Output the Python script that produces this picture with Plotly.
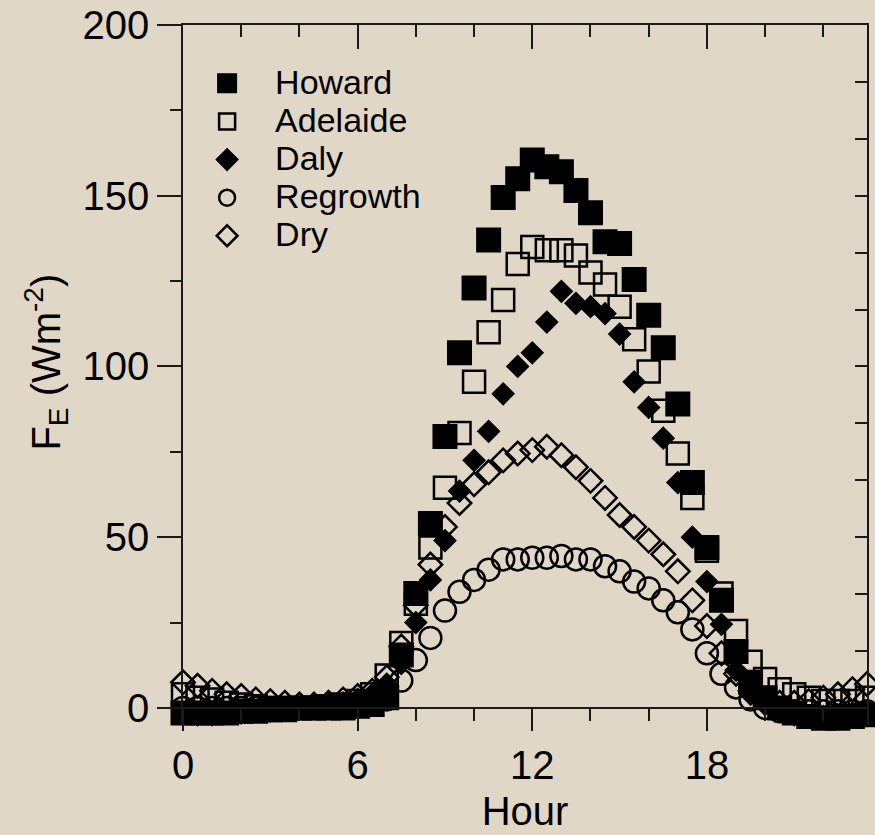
import plotly.graph_objects as go

# ---------------- data ----------------
hours = [0, 0.5, 1, 1.5, 2, 2.5, 3, 3.5, 4, 4.5, 5, 5.5, 6, 6.5, 7, 7.5,
         8, 8.5, 9, 9.5, 10, 10.5, 11, 11.5, 12, 12.5, 13, 13.5, 14, 14.5, 15, 15.5,
         16, 16.5, 17, 17.5, 18, 18.5, 19, 19.5, 20, 20.5, 21, 21.5, 22, 22.5, 23, 23.5]

howard = [-1.5, -1.5, -1.5, -1.5, -1, -1, -0.5, -0.5, 0, 0, 0, 0, 0.5, 1, 3, 15.5,
          33.5, 54, 79.5, 104, 123, 137, 149.5, 155, 160.5, 158.5, 157, 151.5, 145, 136.5, 136, 125.5,
          115, 105.5, 89, 66, 47, 31.5, 16.5, 7.5, 3, 0, -1.5, -2.5, -3, -3, -2.5, -2]

adelaide = [4, 3, 2.5, 1.5, 1, 0.5, 0, 0, 0, 0, 0.5, 1, 2, 4, 9.5, 19,
            30.5, 47, 64.5, 80.5, 95.5, 110, 119.5, 130, 135, 134, 134, 132.5, 127.5, 124, 117.5, 108,
            98.5, 87, 74.5, 61.5, 46, 33.5, 22.5, 13.5, 8.5, 5.5, 4, 3, 2, 2, 2, 3]

daly = [-2, -2, -2, -1.5, -1.5, -1, -1, -0.5, 0, 0.5, 1, 1.5, 2.5, 4, 7, 13,
        25, 37.5, 49, 63.5, 72.5, 81, 92, 100, 104, 113, 122, 118.5, 117.5, 115.5, 109.5, 95.5,
        88, 79, 66, 50, 37, 24.5, 11, 4, 1, -1, -2, -2.5, -2.5, -2, -1.5, -1]

regrowth = [0, 0, 0, 0, 0, 0, 0, 0, 0, 0, 0, 0, 0.5, 1, 2.5, 8,
            14, 20.5, 28.5, 34, 37.5, 40.5, 43.5, 43.5, 44, 44, 44.5, 43.5, 43.5, 41.5, 40, 37,
            35, 31.5, 28, 23, 16, 10, 6, 2.5, 0, -1, -1, -1, -1, -1, -1, -1]

dry = [7.5, 6.5, 5, 4, 3.5, 2.5, 2, 1.5, 1, 1, 1.5, 2.5, 3.5, 5, 9, 18,
       30, 42, 53, 60, 65.5, 69, 72.5, 74.5, 75.5, 76.5, 74, 70.5, 66.5, 61.5, 56.5, 53,
       49, 45, 40, 31.5, 24, 16, 10, 5, 2.5, 1.5, 1.5, 2, 3, 4, 5.5, 7]

x_ticks = [0, 6, 12, 18]
y_ticks = [0, 50, 100, 150, 200]

# ---------------- style ----------------
BG = "#e0d7c6"
INK = "#000000"
AXC = "#1a1a1a"
FONT = "Liberation Sans, Arial, sans-serif"

Y_MIN, Y_MAX = -5, 200          # a little room below zero so night values (slightly negative) show
X_MIN, X_MAX = 0, 23.5
RIGHT_DIV = 12                  # right-hand axis: 12 equal unlabeled divisions
zero_pos = (0 - Y_MIN) / (Y_MAX - Y_MIN)

fig = go.Figure()

def name(s):
    return '<span style="font-size:34px">' + s + '</span>'

# drawing order: Dry, Regrowth, Daly, Adelaide, Howard (Howard on top)
fig.add_trace(go.Scatter(x=hours, y=dry, mode="markers", name=name("Dry"),
                         marker=dict(symbol="diamond-open", size=18, color=INK,
                                     line=dict(width=2.5, color=INK)),
                         cliponaxis=False))
fig.add_trace(go.Scatter(x=hours, y=regrowth, mode="markers", name=name("Regrowth"),
                         marker=dict(symbol="circle-open", size=22, color=INK,
                                     line=dict(width=2.5, color=INK)),
                         cliponaxis=False))
fig.add_trace(go.Scatter(x=hours, y=daly, mode="markers", name=name("Daly"),
                         marker=dict(symbol="diamond", size=15, color=INK,
                                     line=dict(width=3, color=INK)),
                         cliponaxis=False))
fig.add_trace(go.Scatter(x=hours, y=adelaide, mode="markers", name=name("Adelaide"),
                         marker=dict(symbol="square-open", size=22, color=INK,
                                     line=dict(width=2.5, color=INK)),
                         cliponaxis=False))
fig.add_trace(go.Scatter(x=hours, y=howard, mode="markers", name=name("Howard"),
                         marker=dict(symbol="square", size=21, color=INK,
                                     line=dict(width=4, color=INK)),
                         cliponaxis=False))

# helper empty traces so the mirror axes (top / right) get drawn
fig.add_trace(go.Scatter(x=[], y=[], xaxis="x2", yaxis="y", showlegend=False, hoverinfo="skip"))
fig.add_trace(go.Scatter(x=[], y=[], xaxis="x", yaxis="y2", showlegend=False, hoverinfo="skip"))

fig.update_layout(
    width=875, height=835,
    margin=dict(l=183, r=8, t=25, b=110),
    paper_bgcolor=BG, plot_bgcolor=BG,
    font=dict(family=FONT, size=40, color=INK),
    showlegend=True,
    legend=dict(
        x=-0.0057, y=0.951, xanchor="left", yanchor="top",
        traceorder="reversed",
        bgcolor="rgba(0,0,0,0)", borderwidth=0,
        font=dict(family=FONT, size=27, color=INK),
        itemwidth=86,
    ),
    xaxis=dict(
        range=[X_MIN, X_MAX], anchor="free", position=zero_pos,
        tickmode="array", tickvals=x_ticks, ticktext=[str(v) for v in x_ticks],
        ticks="outside", ticklen=22, tickwidth=1.5, tickcolor=AXC,
        minor=dict(dtick=2, tick0=0, ticks="outside", ticklen=12, tickwidth=1.5, tickcolor=AXC),
        showline=True, linecolor=AXC, linewidth=1.5, showgrid=False, zeroline=False,
        tickfont=dict(size=40), title=dict(text="Hour", font=dict(size=40), standoff=10),
        automargin=False,
    ),
    xaxis2=dict(
        overlaying="x", side="top", anchor="y", matches="x",
        range=[X_MIN, X_MAX], tickmode="array", tickvals=x_ticks,
        ticks="inside", ticklen=24, tickwidth=1.5, tickcolor=AXC,
        minor=dict(dtick=2, tick0=0, ticks="inside", ticklen=12, tickwidth=1.5, tickcolor=AXC),
        showticklabels=False, showline=True, linecolor=AXC, linewidth=1.5,
        showgrid=False, zeroline=False,
    ),
    yaxis=dict(
        range=[Y_MIN, Y_MAX], tickmode="array", tickvals=y_ticks, ticktext=[str(v) for v in y_ticks],
        ticks="outside", ticklen=24, tickwidth=1.5, tickcolor=AXC,
        minor=dict(tickmode="array", tickvals=[25, 75, 125, 175], ticks="outside",
                   ticklen=11, tickwidth=1.5, tickcolor=AXC),
        showline=True, linecolor=AXC, linewidth=1.5, showgrid=False, zeroline=False,
        tickfont=dict(size=40),
        automargin=False,
    ),
    yaxis2=dict(
        overlaying="y", side="right", anchor="x",
        range=[Y_MIN / (Y_MAX / RIGHT_DIV), RIGHT_DIV], dtick=1, tick0=0,
        ticks="inside", ticklen=12, tickwidth=1.5, tickcolor=AXC,
        showticklabels=False, showline=True, linecolor=AXC, linewidth=1.5,
        showgrid=False, zeroline=False,
    ),
    annotations=[dict(
        text="F<sub>E</sub> (Wm<sup>-2</sup>)", textangle=-90,
        xref="paper", yref="paper", x=-0.2, y=0.518,
        xanchor="center", yanchor="middle", showarrow=False,
        font=dict(family=FONT, size=40, color=INK),
    )],
)

fig.write_html("out.html")
